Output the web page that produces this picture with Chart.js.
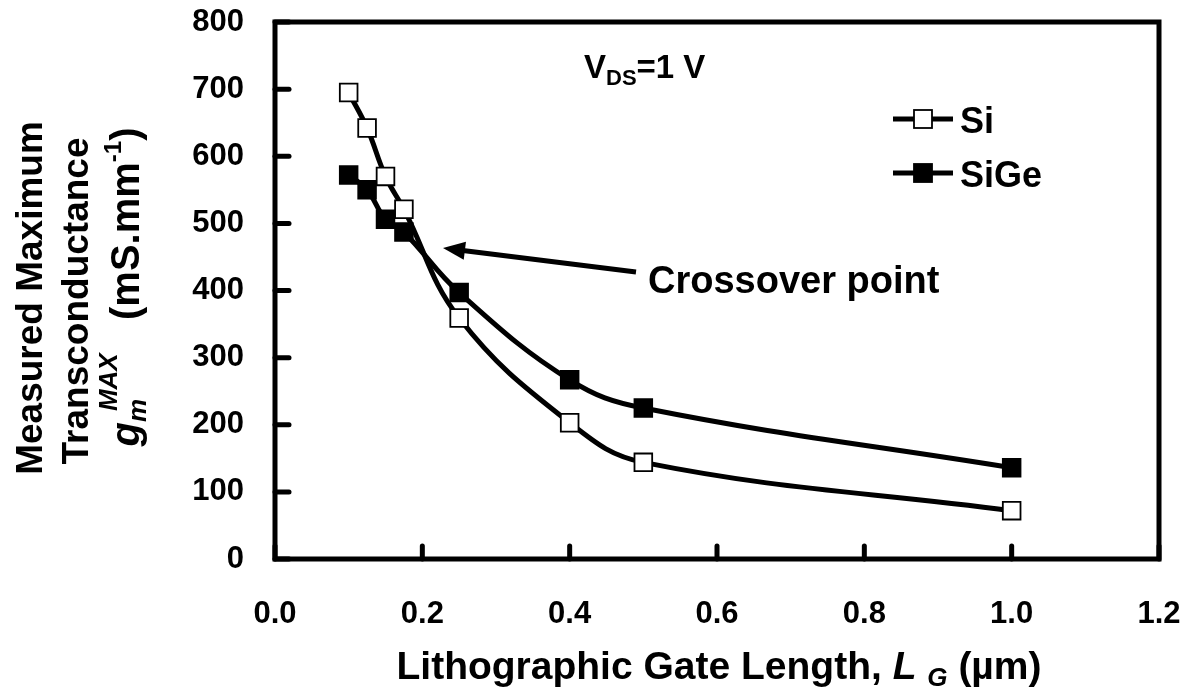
<!DOCTYPE html>
<html>
<head>
<meta charset="utf-8">
<script src="https://cdn.jsdelivr.net/npm/chart.js@4.4.1/dist/chart.umd.min.js"></script>
<style>
  html, body { margin: 0; padding: 0; background: #fff; }
  #wrap { width: 1193px; height: 693px; position: relative; }
</style>
</head>
<body>
<div id="wrap"><canvas id="gmChart" width="1193" height="693"></canvas></div>
<script>
// gate length (µm) and measured gm max (mS/mm)
const gateLength = [0.1, 0.125, 0.15, 0.175, 0.25, 0.4, 0.5, 1.0];
const siGm = [695, 642, 570, 521, 359, 203, 144, 72];
const siGeGm = [572, 550, 506, 487, 397, 267, 225, 136];
const xTicks = [0.0, 0.2, 0.4, 0.6, 0.8, 1.0, 1.2];
const yTicks = [0, 100, 200, 300, 400, 500, 600, 700, 800];

const FONT = '"Liberation Sans", Arial, Helvetica, sans-serif';

function puntos(xs, ys) {
    return xs.map((x, i) => ({ x: x, y: ys[i] }));
}

// dibuja trozos de texto seguidos (para sub/superíndices)
function dibujarTrozos(ctx, trozos, x, y, align) {
    let ancho = 0;
    trozos.forEach(t => {
        ctx.font = `${t.italic ? 'italic ' : ''}bold ${t.size}px ${FONT}`;
        t.w = t.adv !== undefined ? t.adv : ctx.measureText(t.text).width;
        ancho += t.w;
    });
    let cx = align === 'center' ? x - ancho / 2 : x;
    ctx.textAlign = 'left';
    ctx.textBaseline = 'alphabetic';
    trozos.forEach(t => {
        ctx.font = `${t.italic ? 'italic ' : ''}bold ${t.size}px ${FONT}`;
        ctx.fillText(t.text, cx, y + (t.dy || 0));
        cx += t.w;
    });
}

// quita el relleno automático de las escalas para fijar el área del gráfico
function sinRelleno(s) {
    s.paddingTop = 0;
    s.paddingBottom = 0;
    s.paddingLeft = 0;
    s.paddingRight = 0;
}

const decoracion = {
    id: 'decoracion',
    afterDatasetsDraw(chart) {
        const ctx = chart.ctx;
        const a = chart.chartArea;
        const xs = chart.scales.x;
        const ys = chart.scales.y;
        ctx.save();
        ctx.fillStyle = '#000';
        ctx.strokeStyle = '#000';

        // marco
        ctx.lineWidth = 5;
        ctx.lineJoin = 'miter';
        ctx.strokeRect(a.left, a.top, a.right - a.left, a.bottom - a.top);

        // marcas hacia dentro
        ctx.lineWidth = 5;
        ctx.lineCap = 'round';
        yTicks.forEach(v => {
            const py = ys.getPixelForValue(v);
            ctx.beginPath();
            ctx.moveTo(a.left, py);
            ctx.lineTo(a.left + 14, py);
            ctx.stroke();
        });
        xTicks.forEach(v => {
            const px = xs.getPixelForValue(v);
            ctx.beginPath();
            ctx.moveTo(px, a.bottom);
            ctx.lineTo(px, a.bottom - 13);
            ctx.stroke();
        });
        ctx.lineCap = 'butt';

        // leyenda
        const filas = [
            { label: 'Si', y: 119, fill: '#fff' },
            { label: 'SiGe', y: 173, fill: '#000' }
        ];
        filas.forEach(f => {
            ctx.lineWidth = 5;
            ctx.beginPath();
            ctx.moveTo(893, f.y);
            ctx.lineTo(953, f.y);
            ctx.stroke();
            ctx.fillStyle = f.fill;
            ctx.fillRect(923 - 9, f.y - 9, 18, 18);
            ctx.lineWidth = 1.8;
            ctx.strokeRect(923 - 9, f.y - 9, 18, 18);
            ctx.fillStyle = '#000';
            ctx.font = `bold 36px ${FONT}`;
            ctx.textAlign = 'left';
            ctx.textBaseline = 'alphabetic';
            ctx.fillText(f.label, 960, f.y + 14);
        });

        // V_DS = 1 V
        dibujarTrozos(ctx, [
            { text: 'V', size: 33 },
            { text: 'DS', size: 22, dy: 7 },
            { text: '=1 V', size: 33 }
        ], 584, 78, 'left');

        // flecha del punto de cruce
        const tip = { x: 443, y: 248 };
        const cola = { x: 636, y: 272 };
        const ang = Math.atan2(cola.y - tip.y, cola.x - tip.x);
        ctx.lineWidth = 5;
        ctx.beginPath();
        ctx.moveTo(cola.x, cola.y);
        ctx.lineTo(tip.x + 16 * Math.cos(ang), tip.y + 16 * Math.sin(ang));
        ctx.stroke();
        ctx.beginPath();
        ctx.moveTo(tip.x, tip.y);
        ctx.lineTo(tip.x + 22 * Math.cos(ang) - 9 * Math.sin(ang), tip.y + 22 * Math.sin(ang) + 9 * Math.cos(ang));
        ctx.lineTo(tip.x + 22 * Math.cos(ang) + 9 * Math.sin(ang), tip.y + 22 * Math.sin(ang) - 9 * Math.cos(ang));
        ctx.closePath();
        ctx.fill();

        ctx.font = `bold 38px ${FONT}`;
        ctx.textAlign = 'left';
        ctx.textBaseline = 'alphabetic';
        ctx.fillText('Crossover point', 648, 293);

        // título eje X
        dibujarTrozos(ctx, [
            { text: 'Lithographic Gate Length, ', size: 39 },
            { text: 'L', size: 39, italic: true },
            { text: ' ', size: 39 },
            { text: 'G', size: 26, italic: true, dy: 7 },
            { text: ' (µm)', size: 39 }
        ], 719, 679, 'center');

        // título eje Y (tres líneas giradas)
        const lineasY = [
            { x: 42, cy: 298, trozos: [{ text: 'Measured Maximum', size: 37 }] },
            { x: 88, cy: 301, trozos: [{ text: 'Transconductance', size: 37 }] },
            { x: 139, cy: 287, trozos: [
                { text: 'g', size: 40, italic: true },
                { text: 'm', size: 26, italic: true, dy: 7, adv: 11 },
                { text: 'MAX', size: 26, italic: true, dy: -22 },
                { text: '   (mS.mm', size: 40 },
                { text: '-1', size: 24, dy: -18 },
                { text: ')', size: 40 }
            ] }
        ];
        lineasY.forEach(l => {
            ctx.save();
            ctx.translate(l.x, l.cy);
            ctx.rotate(-Math.PI / 2);
            dibujarTrozos(ctx, l.trozos, 0, 0, 'center');
            ctx.restore();
        });

        ctx.restore();
    }
};

function inicializarGrafica() {
    const ctx = document.getElementById('gmChart').getContext('2d');
    return new Chart(ctx, {
        type: 'scatter',
        data: {
            datasets: [{
                label: 'Si',
                data: puntos(gateLength, siGm),
                showLine: true,
                borderColor: '#000',
                borderWidth: 5,
                tension: 0.4,
                pointStyle: 'rect',
                pointRadius: 12.5,
                pointBackgroundColor: '#fff',
                pointBorderColor: '#000',
                pointBorderWidth: 1.8
            }, {
                label: 'SiGe',
                data: puntos(gateLength, siGeGm),
                showLine: true,
                borderColor: '#000',
                borderWidth: 5,
                tension: 0.4,
                pointStyle: 'rect',
                pointRadius: 12.5,
                pointBackgroundColor: '#000',
                pointBorderColor: '#000',
                pointBorderWidth: 1.8
            }]
        },
        options: {
            responsive: false,
            animation: false,
            layout: { padding: { top: 22, right: 34, left: 0, bottom: 0 } },
            plugins: {
                legend: { display: false },
                tooltip: { enabled: false }
            },
            scales: {
                x: {
                    type: 'linear',
                    min: 0,
                    max: 1.2,
                    afterFit: s => { s.height = 134; sinRelleno(s); },
                    afterBuildTicks: s => { s.ticks = xTicks.map(v => ({ value: v })); },
                    grid: { display: false, drawTicks: false },
                    border: { display: false },
                    ticks: {
                        color: '#000',
                        padding: 37,
                        maxRotation: 0,
                        font: { family: FONT, size: 31, weight: 'bold' },
                        callback: v => v.toFixed(1)
                    }
                },
                y: {
                    min: 0,
                    max: 800,
                    afterFit: s => { s.width = 275; sinRelleno(s); },
                    afterBuildTicks: s => { s.ticks = yTicks.map(v => ({ value: v })); },
                    grid: { display: false, drawTicks: false },
                    border: { display: false },
                    ticks: {
                        color: '#000',
                        padding: 31,
                        font: { family: FONT, size: 31, weight: 'bold' }
                    }
                }
            }
        },
        plugins: [decoracion]
    });
}

document.addEventListener('DOMContentLoaded', () => {
    inicializarGrafica();
});
</script>
</body>
</html>
